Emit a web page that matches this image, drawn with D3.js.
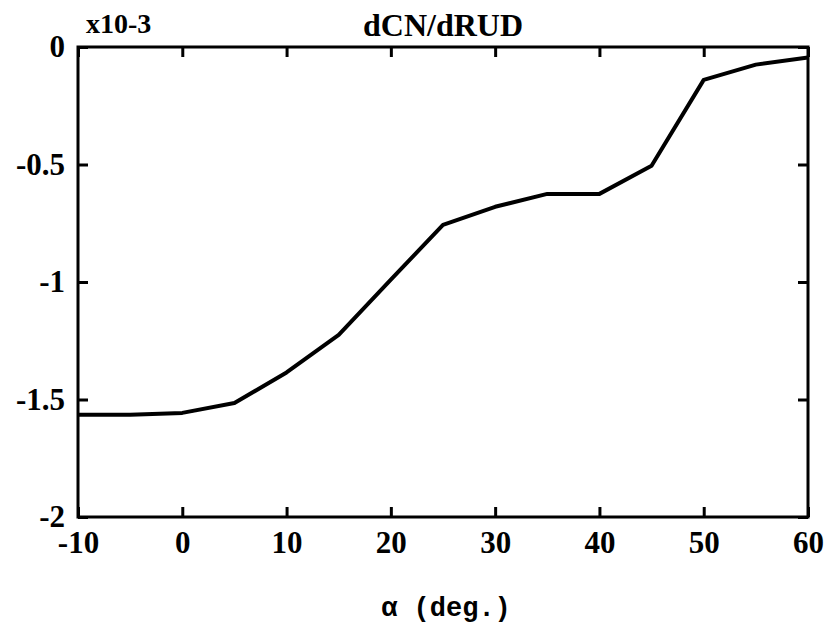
<!DOCTYPE html>
<html><head><meta charset="utf-8">
<script src="https://cdn.jsdelivr.net/npm/d3@7"></script>
<style>body{margin:0;background:#fff}</style>
</head><body>
<svg id="c" width="829" height="631"></svg>
<script>
const alpha = [-10, -5, 0, 5, 10, 15, 20, 25, 30, 35, 40, 45, 50, 55, 60];
const dCNdRUD = [-1.565, -1.565, -1.557, -1.515, -1.385, -1.225, -0.99, -0.757, -0.68, -0.625, -0.625, -0.505, -0.14, -0.075, -0.045];
const xTicks = [-10, 0, 10, 20, 30, 40, 50, 60];
const xTickLabels = ["-10", "0", "10", "20", "30", "40", "50", "60"];
const yTicks = [0, -0.5, -1, -1.5, -2];
const yTickLabels = ["0", "-0.5", "-1", "-1.5", "-2"];

const svg = d3.select("#c");
const L = 78, R = 808, T = 47, B = 517;
const x = d3.scaleLinear().domain([-10, 60]).range([L, R]);
const y = d3.scaleLinear().domain([-2, 0]).range([B, T]);
const serif = "'Liberation Serif','Times New Roman',serif";

// frame
svg.append("rect").attr("x", L).attr("y", T).attr("width", R - L).attr("height", B - T)
  .attr("fill", "none").attr("stroke", "#000").attr("stroke-width", 3);

// axes with inward ticks
const gBottom = svg.append("g").attr("transform", `translate(0,${B})`)
  .call(d3.axisBottom(x).tickValues(xTicks).tickSize(-10).tickPadding(14).tickFormat((d, i) => xTickLabels[i]));
const gTop = svg.append("g").attr("transform", `translate(0,${T})`)
  .call(d3.axisTop(x).tickValues(xTicks).tickSize(-10).tickFormat(""));
const gLeft = svg.append("g").attr("transform", `translate(${L},0)`)
  .call(d3.axisLeft(y).tickValues(yTicks).tickSize(-10).tickPadding(13).tickFormat((d, i) => yTickLabels[i]));
const gRight = svg.append("g").attr("transform", `translate(${R},0)`)
  .call(d3.axisRight(y).tickValues(yTicks).tickSize(-10).tickFormat(""));
[gBottom, gTop, gLeft, gRight].forEach(g => {
  g.select(".domain").remove();
  g.selectAll(".tick line").attr("stroke", "#000").attr("stroke-width", 3);
  g.selectAll(".tick text").attr("fill", "#000").style("font-family", serif)
    .style("font-weight", "bold").style("font-size", "31px");
});
gBottom.selectAll(".tick text").attr("dy", "0.71em");

// data line
svg.append("path").datum(alpha.map((a, i) => [a, dCNdRUD[i]]))
  .attr("fill", "none").attr("stroke", "#000").attr("stroke-width", 4)
  .attr("stroke-linejoin", "round")
  .attr("d", d3.line().x(d => x(d[0])).y(d => y(d[1])));

// texts
svg.append("text").attr("x", 86).attr("y", 33).text("x10-3")
  .style("font-family", serif).style("font-size", "28px").style("font-weight", "bold");
svg.append("text").attr("x", 443).attr("y", 36).attr("text-anchor", "middle").text("dCN/dRUD")
  .style("font-family", serif).style("font-size", "32px").style("font-weight", "bold");
svg.append("text").attr("x", 446).attr("y", 616).attr("text-anchor", "middle").text("α (deg.)")
  .style("font-family", "'Liberation Mono','Courier New',monospace").style("font-size", "27px").style("font-weight", "bold");
</script>
</body></html>
